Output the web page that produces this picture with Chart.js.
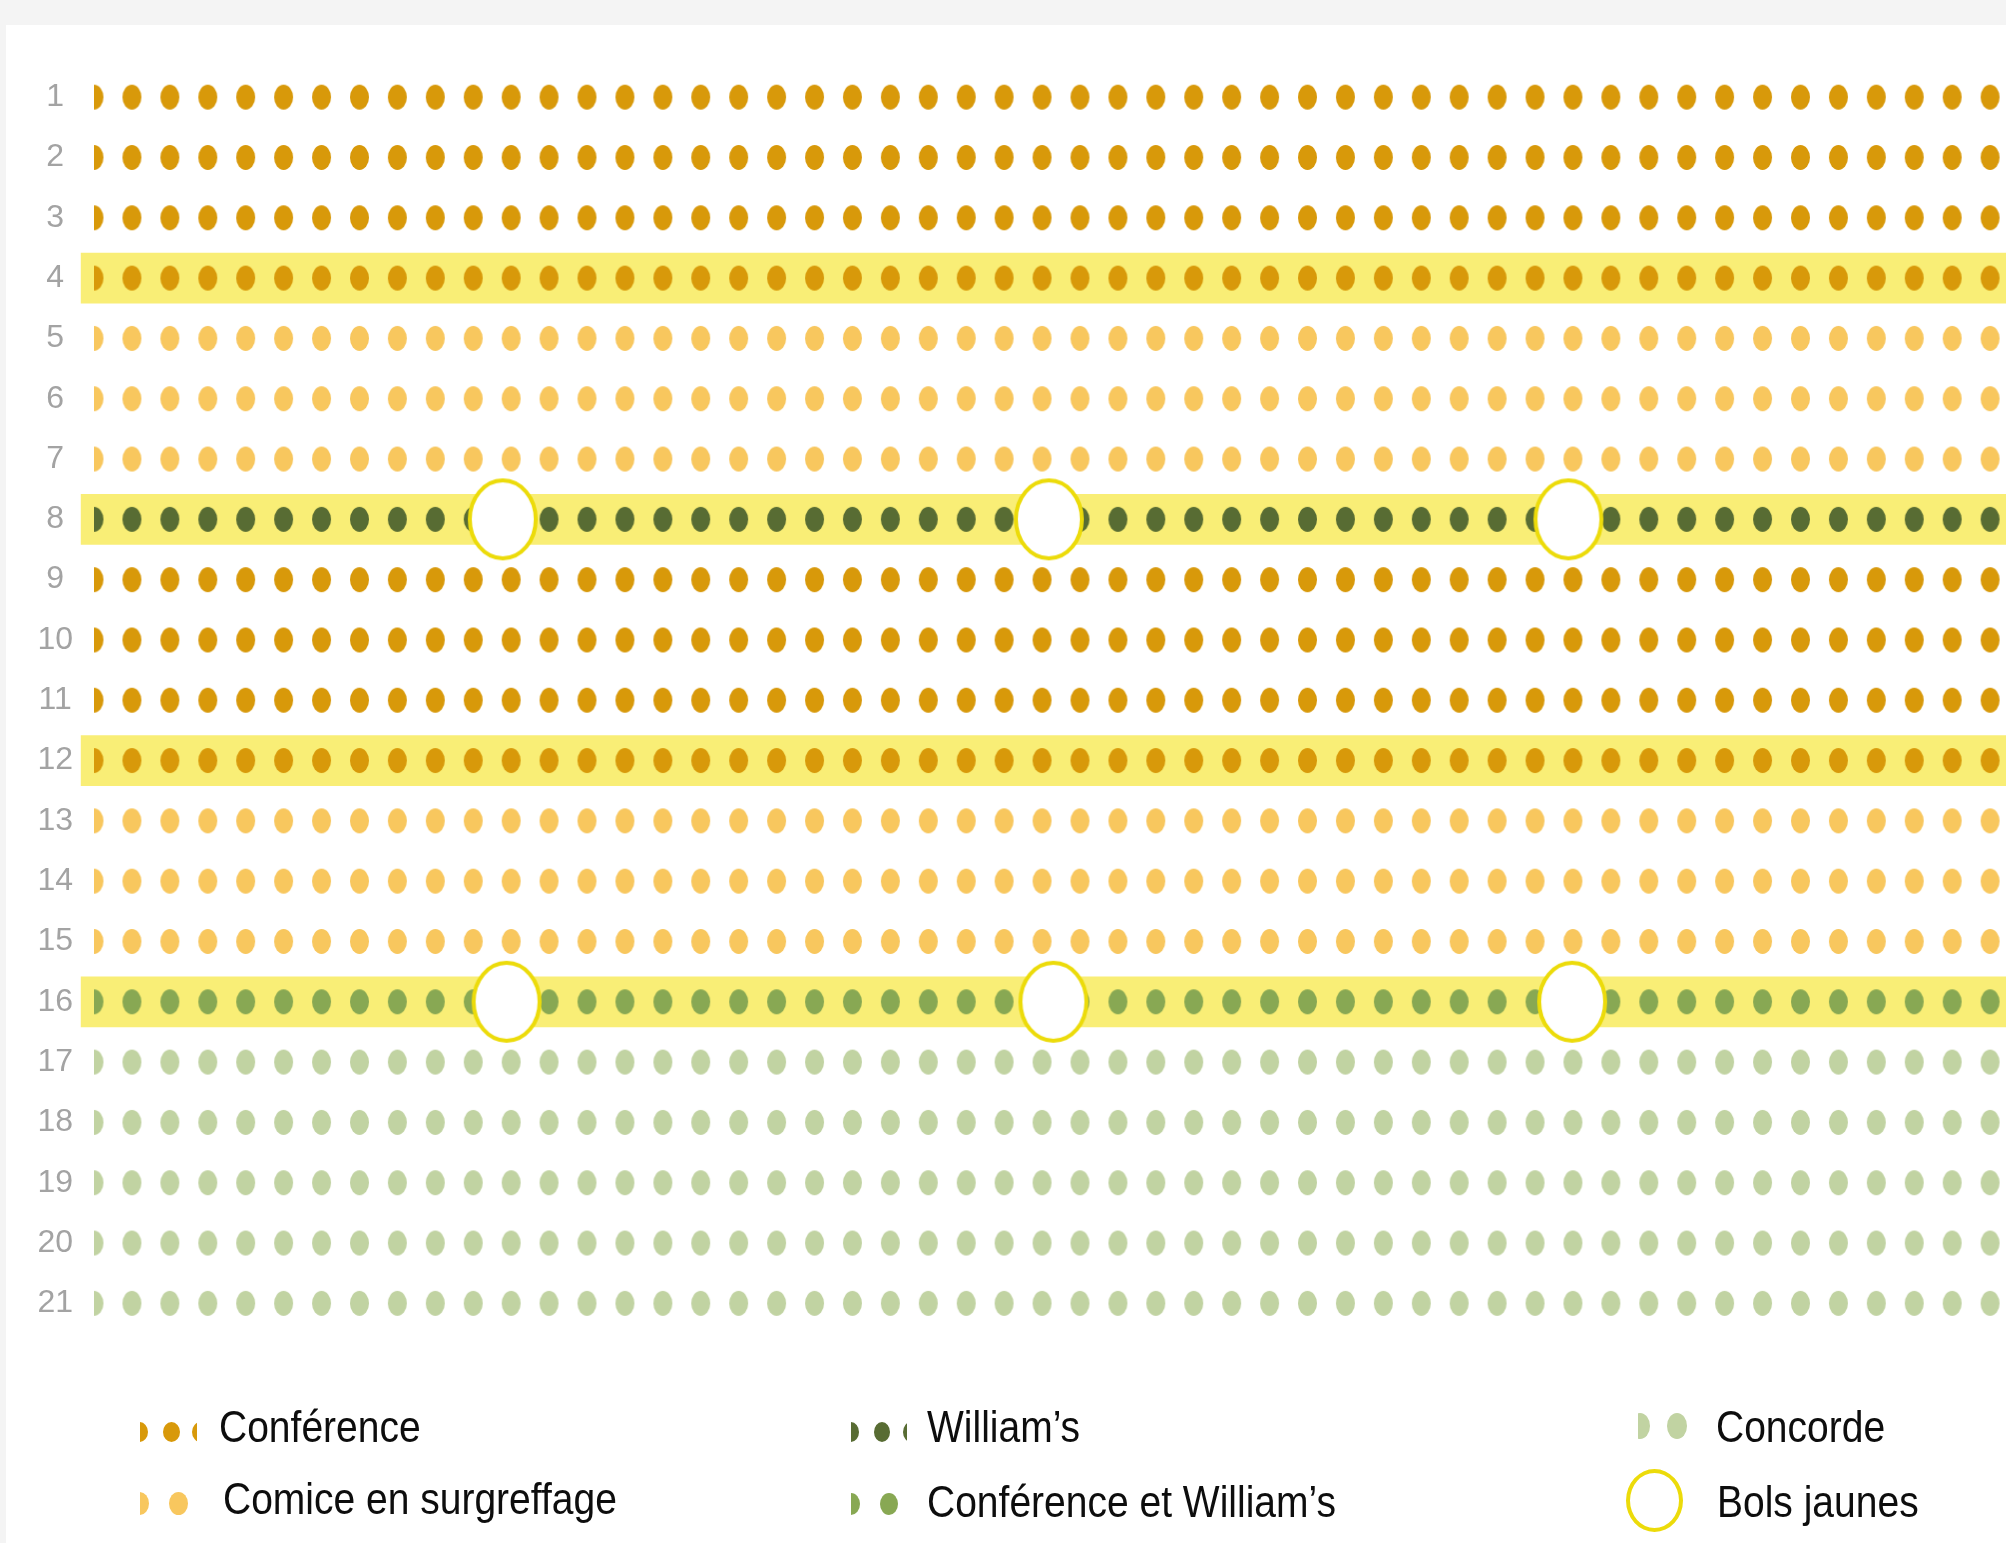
<!DOCTYPE html>
<html lang="fr">
<head>
<meta charset="utf-8">
<title>Rangs du verger</title>
<script src="https://cdn.jsdelivr.net/npm/chart.js@4/dist/chart.umd.min.js"></script>
<style>
  html, body { margin: 0; padding: 0; width: 2006px; height: 1543px; overflow: hidden; background: #f4f4f4; }
  #card { position: absolute; left: 6px; top: 25px; right: 0; bottom: 0; background: #ffffff; }
  #chart { position: absolute; left: 0; top: 0; }
  .lg-text { position: absolute; font-family: "Liberation Sans", Arial, sans-serif; font-size: 39px; line-height: 39px;
             color: #0d0d0d; white-space: nowrap; transform: scaleY(1.13); transform-origin: 0 33px; }
  .lg-mark { position: absolute; overflow: hidden; }
  .lg-mark span { position: absolute; border-radius: 50%; top: 0; }
  .lg-ring { position: absolute; box-sizing: border-box; border-radius: 50%; background: #fff; }
</style>
</head>
<body>
<div id="card"></div>
<canvas id="chart" width="2006" height="1543"></canvas>
<div id="legend"></div>
<script>
// ---------------- DATA ----------------
const rowLabels = ['1','2','3','4','5','6','7','8','9','10','11','12','13','14','15','16','17','18','19','20','21'];
const seriesNames = ['Conférence', 'Comice en surgreffage', 'William’s', 'Conférence et William’s', 'Concorde'];
const rowSeries = [
  'Conférence', 'Conférence', 'Conférence', 'Conférence',
  'Comice en surgreffage', 'Comice en surgreffage', 'Comice en surgreffage',
  'William’s',
  'Conférence', 'Conférence', 'Conférence', 'Conférence',
  'Comice en surgreffage', 'Comice en surgreffage', 'Comice en surgreffage',
  'Conférence et William’s',
  'Concorde', 'Concorde', 'Concorde', 'Concorde', 'Concorde'
];
const dotsPerRow = 51;
const highlightedRows = ['4', '8', '12', '16'];
const bolLabel = 'Bols jaunes';
const bolRows = ['8', '8', '8', '16', '16', '16'];
const bolPositions = [10.78, 25.18, 38.88, 10.88, 25.30, 38.98];

// ---------------- STYLE ----------------
const seriesColors = {
  'Conférence': '#d8990a',
  'Comice en surgreffage': '#f8c75e',
  'William’s': '#586c33',
  'Conférence et William’s': '#88a853',
  'Concorde': '#c1d3a2'
};
const bandColor = '#f9ee76';
const ringColor = '#ecdb0a';
const tickColor = '#a3a3a3';
const X_MIN = 0, X_MAX = 50.42;

function dotImage(color) {
  const c = document.createElement('canvas');
  c.width = 21; c.height = 27;
  const g = c.getContext('2d');
  g.fillStyle = color;
  g.beginPath();
  g.ellipse(10.5, 13.5, 9.5, 12.5, 0, 0, Math.PI * 2);
  g.fill();
  return c;
}
function ringImage() {
  const c = document.createElement('canvas');
  c.width = 74; c.height = 86;
  const g = c.getContext('2d');
  g.beginPath();
  g.ellipse(37, 43, 33, 39, 0, 0, Math.PI * 2);
  g.fillStyle = '#ffffff';
  g.fill();
  g.lineWidth = 4;
  g.strokeStyle = ringColor;
  g.stroke();
  return c;
}

// ---------------- DATASETS ----------------
const datasets = [];
datasets.push({
  type: 'scatter',
  label: bolLabel,
  data: bolRows.map((r, i) => ({ x: bolPositions[i], y: r })),
  pointStyle: ringImage(),
  pointRadius: 36,
  order: 0,
  clip: false
});
seriesNames.forEach(name => {
  const data = [];
  rowSeries.forEach((s, ri) => {
    if (s === name) {
      for (let c = 0; c < dotsPerRow; c++) data.push({ x: c, y: rowLabels[ri] });
    }
  });
  datasets.push({
    type: 'scatter',
    label: name,
    data,
    pointStyle: dotImage(seriesColors[name]),
    pointRadius: 10,
    order: 1,
    clip: { left: 0, right: 0, top: false, bottom: false }
  });
});
datasets.push({
  type: 'bar',
  label: 'Rangs surlignés',
  indexAxis: 'y',
  data: highlightedRows.map(r => ({ x: [-0.34, 51], y: r })),
  backgroundColor: bandColor,
  borderWidth: 0,
  borderSkipped: false,
  barThickness: 50,
  order: 2,
  clip: { left: 14, right: 0, top: false, bottom: false }
});

new Chart(document.getElementById('chart'), {
  type: 'scatter',
  data: { labels: rowLabels, datasets },
  options: {
    responsive: false,
    animation: false,
    devicePixelRatio: 1,
    events: [],
    layout: { autoPadding: false, padding: { left: 18, right: 0, top: 67, bottom: 209.5 } },
    plugins: { legend: { display: false }, tooltip: { enabled: false } },
    scales: {
      x: {
        type: 'linear', min: X_MIN, max: X_MAX, display: false, bounds: 'data',
        afterBuildTicks: s => { s.min = X_MIN; s.max = X_MAX; }
      },
      y: {
        type: 'category',
        labels: rowLabels,
        offset: true,
        afterFit: s => { s.width = 76; },
        grid: { display: false, drawTicks: false, offset: true },
        border: { display: false },
        ticks: {
          autoSkip: false,
          font: { family: 'Liberation Sans', size: 32 },
          color: tickColor,
          padding: 21,
          crossAlign: 'center'
        }
      }
    }
  }
});

// ---------------- LEGEND (HTML) ----------------
const legendLayout = [
  { name: 'Conférence', textX: 219, baseline: 1442, box: [140, 1422, 57, 20], dots: [-1, 31, 60], dw: 17, dh: 20 },
  { name: 'Comice en surgreffage', textX: 223, baseline: 1514, box: [140, 1492, 50, 23], dots: [-0.5, 38.5], dw: 19, dh: 23 },
  { name: 'William’s', textX: 927, baseline: 1442, box: [851, 1422, 56, 20], dots: [0, 31, 60], dw: 16, dh: 20 },
  { name: 'Conférence et William’s', textX: 927, baseline: 1517, box: [851, 1493, 50, 22], dots: [0, 38], dw: 18, dh: 22 },
  { name: 'Concorde', textX: 1716, baseline: 1442, box: [1638, 1413, 52, 26], dots: [2, 39], dw: 20, dh: 26 }
];
const legend = document.getElementById('legend');
legendLayout.forEach(item => {
  const m = document.createElement('div');
  m.className = 'lg-mark';
  m.style.left = item.box[0] + 'px'; m.style.top = item.box[1] + 'px';
  m.style.width = item.box[2] + 'px'; m.style.height = item.box[3] + 'px';
  item.dots.forEach(cx => {
    const d = document.createElement('span');
    d.style.left = (cx - item.dw / 2) + 'px';
    d.style.width = item.dw + 'px'; d.style.height = item.dh + 'px';
    d.style.background = seriesColors[item.name];
    m.appendChild(d);
  });
  legend.appendChild(m);
  const t = document.createElement('div');
  t.className = 'lg-text';
  t.style.left = item.textX + 'px'; t.style.top = (item.baseline - 33) + 'px';
  t.textContent = item.name;
  legend.appendChild(t);
});
const ring = document.createElement('div');
ring.className = 'lg-ring';
ring.style.left = '1626px'; ring.style.top = '1469px';
ring.style.width = '57px'; ring.style.height = '63px';
ring.style.border = '4px solid ' + ringColor;
legend.appendChild(ring);
const rt = document.createElement('div');
rt.className = 'lg-text';
rt.style.left = '1717px'; rt.style.top = (1517 - 33) + 'px';
rt.textContent = bolLabel;
legend.appendChild(rt);
</script>
</body>
</html>
